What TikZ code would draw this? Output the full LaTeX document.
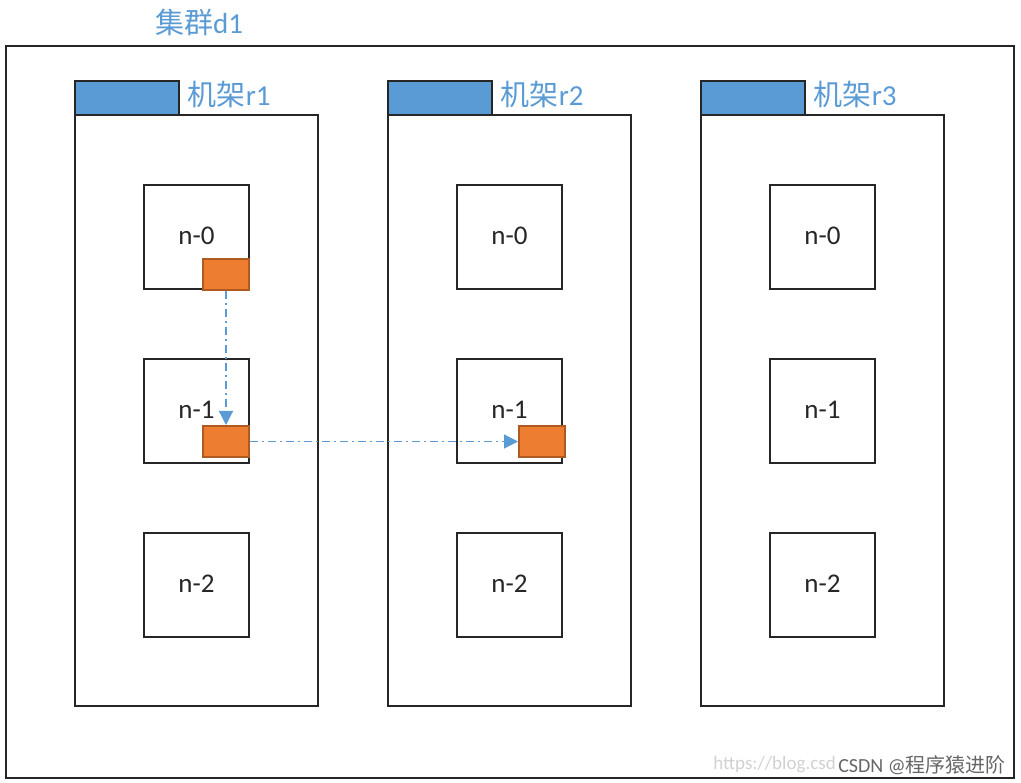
\documentclass[tikz,border=0pt]{standalone}
\usepackage{fontspec}
\setmainfont{Carlito}
\newfontfamily\cjk{Noto Sans CJK SC}
\usetikzlibrary{arrows.meta}
\definecolor{hblue}{HTML}{5B9BD5}
\definecolor{lblue}{HTML}{5B9BD5}
\definecolor{oran}{HTML}{ED7D31}
\definecolor{oranb}{HTML}{AE5A21}
\tikzset{
  outerbox/.style={draw=black!85, line width=2pt, anchor=north west, inner sep=0pt, minimum width=1008pt, minimum height=732pt},
  rackbox/.style={draw=black!85, line width=1.8pt, anchor=north west, inner sep=0pt, minimum width=243pt, minimum height=591pt, fill=white},
  headbox/.style={draw=black!85, line width=1.6pt, fill=hblue, anchor=north west, inner sep=0pt, minimum width=104pt, minimum height=34pt},
  nodebox/.style={draw=black!85, line width=1.8pt, anchor=north west, inner sep=0pt, minimum width=105pt, minimum height=104pt, fill=white},
  blk/.style={draw=oranb, line width=2pt, fill=oran, anchor=north west, inner sep=0pt, minimum width=46pt, minimum height=31pt},
  lbl/.style={text=lblue, font=\fontsize{29}{32}\selectfont, anchor=west, inner sep=0pt},
  flow/.style={draw=hblue, line width=1.2pt, dash pattern=on 8pt off 4pt on 2pt off 4pt, -{Triangle[length=14pt,width=14pt]}},
  nlabel/.style={font=\fontsize{27}{30}\selectfont, text=black!85, inner sep=0pt}
}
\begin{document}
\begin{tikzpicture}[x=1pt,y=-1pt]
\useasboundingbox (0,0) rectangle (1021,783);
\node[outerbox] (cluster) at (5,45) {};
\node[lbl, anchor=center] (ctitle) at (199,22) {{\cjk 集群}d1};
% racks
\foreach \r/\x in {1/74,2/387,3/700}{
  \node[rackbox] (rack\r) at (\x,114) {};
  \node[headbox] (head\r) at (\x,80) {};
  \node[lbl] (rlabel\r) at ([xshift=8pt,yshift=3pt]head\r.east) {{\cjk 机架}r\r};
  \foreach \n/\y in {0/184,1/358,2/532}{
    \node[nodebox] (n\r\n) at (\x+69,\y) {};
    \node[nlabel] (t\r\n) at ([yshift=1pt]n\r\n.center) {n-\n};
  }
}
% blocks
\node[blk] (b1) at (202,258) {};
\node[blk] (b2) at (202,425) {};
\node[blk] (b3) at (518,425) {};
\draw[flow] (b1.south) -- (b2.north);
\draw[flow] (b2.east) -- (b3.west);
% watermark
\node[anchor=east, inner sep=0pt, text=black!18, font=\fontsize{19}{22}\selectfont] (url) at (836,765) {https://blog.csd};
\node[anchor=east, inner sep=0pt, text=black!60, font=\fontsize{20}{22}\selectfont] (wm) at (1006,765) {CSDN @{\cjk 程序猿进阶}};
\end{tikzpicture}
\end{document}
